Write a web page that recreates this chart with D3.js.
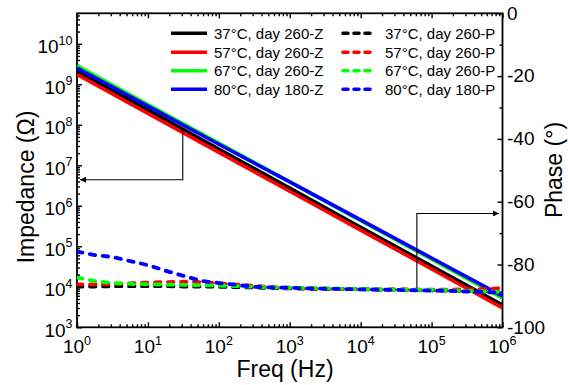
<!DOCTYPE html>
<html><head><meta charset="utf-8">
<script src="https://cdn.jsdelivr.net/npm/d3@7"></script>
<style>
body{margin:0;background:#fff}
svg{display:block}
text{font-family:"Liberation Sans",Arial,Helvetica,sans-serif;fill:#000}
</style>
</head><body>
<svg id="c" width="568" height="385"></svg>
<script>
// ---------------- data ----------------
const freqZ = [1, 10, 100, 1e3, 1e4, 1e5, 1e6];
const z37 = [2.14e9, 2.34e8, 2.51e7, 2.75e6, 2.95e5, 3.24e4, 3.55e3];
const z57 = [1.74e9, 1.90e8, 2.09e7, 2.29e6, 2.51e5, 2.75e4, 3.00e3];
const z67 = [2.88e9, 3.16e8, 3.55e7, 3.89e6, 4.27e5, 4.79e4, 5.25e3];
const z80 = [2.51e9, 2.88e8, 3.31e7, 3.89e6, 4.47e5, 5.13e4, 5.89e3];

const freqP = [1, 1.78, 3.16, 5.62, 10, 17.8, 31.6, 56.2, 100, 178, 316, 562,
  1e3, 1.78e3, 3.16e3, 5.62e3, 1e4, 1.78e4, 3.16e4, 5.62e4, 1e5, 1.78e5, 3.16e5, 5.62e5, 1e6];
const p37 = [-87.0,-87.0,-86.9,-86.9,-86.9,-86.9,-87.0,-87.0,-87.1,-87.2,-87.3,-87.5,-87.6,-87.7,-87.8,-87.8,-87.9,-88.0,-88.0,-88.1,-88.2,-88.3,-88.4,-88.6,-88.8];
const p57 = [-86.3,-86.3,-86.2,-86.0,-85.8,-85.6,-85.5,-85.6,-86.0,-86.4,-86.8,-87.2,-87.4,-87.6,-87.7,-87.8,-87.8,-87.9,-87.9,-88.0,-88.0,-88.0,-87.9,-87.8,-87.5];
const p67 = [-84.2,-85.3,-85.9,-86.2,-86.3,-86.4,-86.5,-86.6,-86.7,-86.9,-87.1,-87.3,-87.4,-87.5,-87.6,-87.7,-87.8,-87.9,-88.0,-88.0,-88.1,-88.2,-88.4,-88.6,-88.8];
const p80 = [-75.9,-77.0,-77.6,-78.9,-80.2,-82.0,-83.6,-85.2,-85.9,-86.5,-87.1,-87.3,-87.4,-87.6,-87.7,-87.8,-87.9,-88.0,-88.1,-88.2,-88.3,-88.4,-88.6,-88.8,-89.0];

const seriesNames = ["37\u00B0C, day 260", "57\u00B0C, day 260", "67\u00B0C, day 260", "80\u00B0C, day 180"];
const seriesColors = ["#000000", "#ff0000", "#00ff00", "#0000ff"];
const zSeries = [z37, z57, z67, z80];
const pSeries = [p37, p57, p67, p80];

const xMajor = [1, 10, 100, 1e3, 1e4, 1e5, 1e6];
const zMajorExp = [3, 4, 5, 6, 7, 8, 9, 10];
const pTicks = [0, -20, -40, -60, -80, -100];
const pMinor = [-10, -30, -50, -70, -90];

// annotation arrows (data coordinates)
const arrowZ = {f: 31, from: 7.4e7, to: 4.4e6};        // points to left (impedance) axis
const arrowP = {f: 6.2e4, from: -87.5, to: -63.75};    // points to right (phase) axis

// ---------------- layout ----------------
const L = 77, R = 502.5, T = 13.3, B = 327.3;
const svg = d3.select("#c");

const x = d3.scaleLog().domain([1, 1e6]).range([L, R]);
const yZ = d3.scaleLog().domain([1e3, 5.66e10]).range([B, T]);
const yP = d3.scaleLinear().domain([-100, 0]).range([B, T]);

svg.append("defs").append("clipPath").attr("id", "clip")
  .append("rect").attr("x", L).attr("y", T).attr("width", R - L).attr("height", B - T);

// minor ticks
const xMinor = [];
for (let d = 1; d < 1e6; d *= 10) for (let k = 2; k <= 9; k++) xMinor.push(d * k);
const yMinor = [];
for (let e = 3; e <= 10; e++) for (let k = 2; k <= 9; k++) { const v = k * Math.pow(10, e); if (v < 5.66e10) yMinor.push(v); }

function styleAxis(g) {
  g.select(".domain").remove();
  g.selectAll(".tick line").attr("stroke", "#000").attr("stroke-width", 1.4);
  g.selectAll(".tick text").remove();
}
const MAJ = 5, MIN = 3;
svg.append("g").attr("transform", `translate(0,${B})`).call(d3.axisBottom(x).tickValues(xMajor).tickSize(-MAJ).tickFormat("")).call(styleAxis);
svg.append("g").attr("transform", `translate(0,${B})`).call(d3.axisBottom(x).tickValues(xMinor).tickSize(-MIN).tickFormat("")).call(styleAxis);
svg.append("g").attr("transform", `translate(0,${T})`).call(d3.axisTop(x).tickValues(xMajor).tickSize(-MAJ).tickFormat("")).call(styleAxis);
svg.append("g").attr("transform", `translate(0,${T})`).call(d3.axisTop(x).tickValues(xMinor).tickSize(-MIN).tickFormat("")).call(styleAxis);
svg.append("g").attr("transform", `translate(${L},0)`).call(d3.axisLeft(yZ).tickValues(zMajorExp.map(e => Math.pow(10, e))).tickSize(-MAJ).tickFormat("")).call(styleAxis);
svg.append("g").attr("transform", `translate(${L},0)`).call(d3.axisLeft(yZ).tickValues(yMinor).tickSize(-MIN).tickFormat("")).call(styleAxis);
svg.append("g").attr("transform", `translate(${R},0)`).call(d3.axisRight(yP).tickValues(pTicks).tickSize(-MAJ).tickFormat("")).call(styleAxis);
svg.append("g").attr("transform", `translate(${R},0)`).call(d3.axisRight(yP).tickValues(pMinor).tickSize(-MIN).tickFormat("")).call(styleAxis);

// frame
svg.append("rect").attr("x", L).attr("y", T).attr("width", R - L).attr("height", B - T)
  .attr("fill", "none").attr("stroke", "#000").attr("stroke-width", 1.8);

// tick labels
const FS = 19, SS = 12.5;
xMajor.forEach((v, i) => {
  const t = svg.append("text").attr("x", x(v)).attr("y", B + 26).attr("text-anchor", "middle").attr("font-size", FS);
  t.append("tspan").text("10");
  t.append("tspan").attr("font-size", SS).attr("dy", -8.5).text(Math.round(Math.log10(v)));
});
zMajorExp.forEach(e => {
  const t = svg.append("text").attr("x", L - 4.5).attr("y", yZ(Math.pow(10, e)) + 9.5).attr("text-anchor", "end").attr("font-size", FS);
  t.append("tspan").text("10");
  t.append("tspan").attr("font-size", SS).attr("dy", -8.5).text(e);
});
pTicks.forEach(v => {
  svg.append("text").attr("x", R + 4.5).attr("y", yP(v) + 6.3).attr("font-size", FS).text(v);
});

// axis titles
svg.append("text").attr("x", 285).attr("y", 377).attr("text-anchor", "middle").attr("font-size", 23).text("Freq (Hz)");
svg.append("text").attr("transform", "translate(34,187) rotate(-90)").attr("text-anchor", "middle").attr("font-size", 23).text("Impedance (\u03A9)");
svg.append("text").attr("transform", "translate(562,170) rotate(-90)").attr("text-anchor", "middle").attr("font-size", 23).text("Phase (\u00B0)");

// data lines
const plot = svg.append("g").attr("clip-path", "url(#clip)");
const lineZ = d3.line().x((d, i) => x(freqZ[i])).y(d => yZ(d));
const lineP = d3.line().x((d, i) => x(freqP[i])).y(d => yP(d));
zSeries.forEach((s, i) => {
  plot.append("path").attr("d", lineZ(s)).attr("fill", "none").attr("stroke", seriesColors[i]).attr("stroke-width", 3.6);
});
pSeries.forEach((s, i) => {
  plot.append("path").attr("d", lineP(s)).attr("fill", "none").attr("stroke", seriesColors[i])
    .attr("stroke-width", 3.8).attr("stroke-dasharray", "5.5,7.5").attr("stroke-linecap", "round");
});

// arrows
const defs = svg.select("defs");
defs.append("marker").attr("id", "ah").attr("viewBox", "0 0 10 10").attr("refX", 10).attr("refY", 5)
  .attr("markerWidth", 8).attr("markerHeight", 6).attr("markerUnits", "userSpaceOnUse").attr("orient", "auto")
  .append("path").attr("d", "M0,0 L10,5 L0,10 Z").attr("fill", "#000");
const ax = x(arrowZ.f);
svg.append("path").attr("d", `M${ax},${yZ(arrowZ.from)} L${ax},${yZ(arrowZ.to)} L${L + 3},${yZ(arrowZ.to)}`)
  .attr("fill", "none").attr("stroke", "#000").attr("stroke-width", 1.1).attr("marker-end", "url(#ah)");
const px = x(arrowP.f);
svg.append("path").attr("d", `M${px},${yP(arrowP.from)} L${px},${yP(arrowP.to)} L${R - 3.5},${yP(arrowP.to)}`)
  .attr("fill", "none").attr("stroke", "#000").attr("stroke-width", 1.1).attr("marker-end", "url(#ah)");

// legend
const rowY = [33.3, 52.3, 70.8, 89.3];
seriesNames.forEach((n, i) => {
  svg.append("line").attr("x1", 171).attr("x2", 207).attr("y1", rowY[i]).attr("y2", rowY[i])
    .attr("stroke", seriesColors[i]).attr("stroke-width", 3.6);
  svg.append("text").attr("x", 214).attr("y", rowY[i] + 5.5).attr("font-size", 15).text(n + "-Z");
  svg.append("line").attr("x1", 343).attr("x2", 373).attr("y1", rowY[i]).attr("y2", rowY[i])
    .attr("stroke", seriesColors[i]).attr("stroke-width", 3.6).attr("stroke-dasharray", "5,6").attr("stroke-linecap", "round");
  svg.append("text").attr("x", 385).attr("y", rowY[i] + 5.5).attr("font-size", 15).text(n + "-P");
});
</script>
</body></html>
